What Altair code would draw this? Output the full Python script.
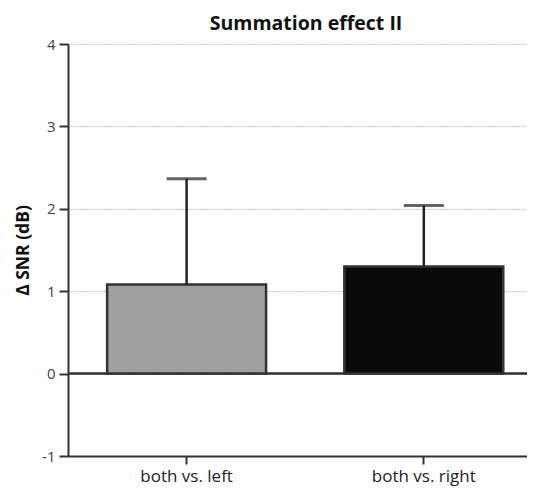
import altair as alt
import pandas as pd

categories = ["both vs. left", "both vs. right"]
means = [1.08, 1.30]
upper = [2.365, 2.04]
fills = ["#a0a0a0", "#0a0a0a"]
y_ticks = [-1, 0, 1, 2, 3, 4]

df = pd.DataFrame({"cat": categories, "mean": means, "upper": upper, "fill": fills})

FONT = "Open Sans"

x = alt.X(
    "cat:N",
    sort=None,
    title=None,
    scale=alt.Scale(paddingInner=0.33, paddingOuter=0.165, range=[0, 474.4]),
    axis=alt.Axis(
        labelAngle=0,
        labelFont=FONT,
        labelFontSize=17,
        labelColor="#222",
        labelPadding=4,
        domainColor="#333",
        domainWidth=2,
        tickColor="#333",
        tickWidth=2,
        tickSize=8,
        grid=False,
    ),
)

y_scale = alt.Scale(domain=[-1, 4], nice=False, zero=False)
y_axis = alt.Axis(
    values=y_ticks,
    labelExpr="'' + datum.value",
    grid=True,
    gridDash=[1, 2],
    gridColor="#8a8a8a",
    gridWidth=1,
    domainColor="#333",
    domainWidth=2,
    tickColor="#333",
    tickWidth=2,
    tickSize=9,
    labelFont=FONT,
    labelFontSize=15,
    labelColor="#444",
    labelPadding=4,
    title="Δ SNR (dB)",
    titleFont=FONT,
    titleFontSize=17.5,
    titleFontWeight="bold",
    titleColor="#111",
    titlePadding=9,
)

base = alt.Chart(df)

bars = base.mark_bar(stroke="#333", strokeWidth=2.5).encode(
    x=x,
    y=alt.Y("mean:Q", scale=y_scale, axis=y_axis),
    fill=alt.Fill("fill:N", scale=None),
)

zero = base.mark_rule(color="#333", strokeWidth=2).encode(y=alt.datum(0))

err = base.mark_rule(color="#222", strokeWidth=2.5).encode(
    x=alt.X("cat:N", sort=None),
    y=alt.Y("mean:Q"),
    y2="upper:Q",
)

caps = base.mark_tick(color="#222", size=40, thickness=3).encode(
    x=alt.X("cat:N", sort=None),
    y=alt.Y("upper:Q"),
)

chart = (
    alt.layer(zero, bars, err, caps)
    .properties(
        width=459,
        height=412,
        title=alt.TitleParams(
            "Summation effect II",
            font=FONT,
            fontSize=19.5,
            fontWeight="bold",
            color="#111",
            anchor="middle",
            frame="group",
            dx=8.5,
            offset=3,
        ),
        autosize=alt.AutoSizeParams(type="none"),
        padding={"left": 60, "top": 36, "right": 0, "bottom": 34},
    )
    .configure_view(stroke=None)
)

chart.save("out.html", embed_options={"renderer": "svg", "actions": False})
